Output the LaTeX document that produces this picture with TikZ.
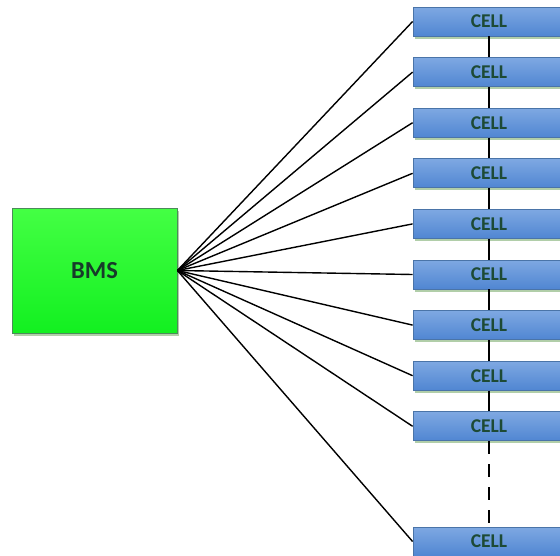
\documentclass[tikz,border=0pt]{standalone}
\usepackage{fontspec}
\setmainfont{Carlito}
\usetikzlibrary{shadows}
\definecolor{cellTop}{HTML}{7EA8E2}
\definecolor{cellBot}{HTML}{5086D2}
\definecolor{cellLine}{HTML}{4A74A8}
\definecolor{cellText}{HTML}{1D4A35}
\definecolor{bmsTop}{HTML}{44FF44}
\definecolor{bmsBot}{HTML}{12F020}
\definecolor{bmsLine}{HTML}{4C8A5A}
\definecolor{shadowCol}{HTML}{A9C9A0}
\tikzset{
  cellbox/.style={draw=cellLine, line width=0.8pt, top color=cellTop, bottom color=cellBot,
    minimum width=152pt, minimum height=29pt, inner sep=0pt,
    font=\fontsize{19.5}{19.5}\selectfont\bfseries, text=cellText,
    drop shadow={shadow xshift=2pt, shadow yshift=-2.5pt, fill=shadowCol, opacity=0.9}},
  bmsbox/.style={draw=bmsLine, line width=0.8pt, top color=bmsTop, bottom color=bmsBot,
    minimum width=165pt, minimum height=125pt, inner sep=0pt,
    font=\fontsize{24.5}{24.5}\selectfont\bfseries, text=cellText!80!black,
    drop shadow={shadow xshift=2pt, shadow yshift=-2.5pt, fill=shadowCol, opacity=0.9}},
  wire/.style={draw=black, line width=1.6pt},
  fan/.style={draw=black, line width=1.4pt}
}
\begin{document}
\begin{tikzpicture}[x=1pt,y=-1pt]
\useasboundingbox (0,0) rectangle (560,555);
\node[bmsbox] (bms) at (94.5,270.5) {BMS};
\foreach \i in {0,...,8}{
  \node[cellbox] (c\i) at (489, {21.5+50.6*\i}) {CELL};
}
\node[cellbox] (c9) at (489, 541.5) {CELL};
\foreach \i in {0,...,9}{
  \draw[fan] (bms.east) -- (c\i.west);
}
\foreach \i/\j in {0/1,1/2,2/3,3/4,4/5,5/6,6/7,7/8}{
  \draw[wire] (c\i.south) -- (c\j.north);
}
\draw[wire, dash pattern=on 13pt off 10pt] (c8.south) -- (c9.north);
\end{tikzpicture}
\end{document}
